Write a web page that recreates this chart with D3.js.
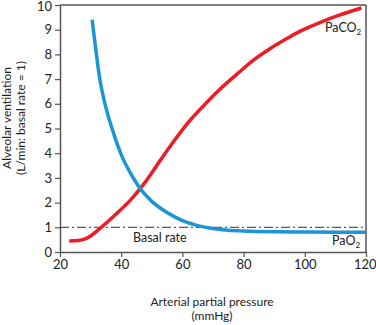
<!DOCTYPE html>
<html><head><meta charset="utf-8">
<script src="https://cdn.jsdelivr.net/npm/d3@7"></script>
<style>
body{margin:0;background:#fff;}
text{font-family:Lato,"DejaVu Sans",sans-serif;fill:#222;}
</style></head>
<body><svg id="c" width="376" height="325"></svg>
<script>
const xTicks=[20,40,60,80,100,120];
const yTicks=[0,1,2,3,4,5,6,7,8,9,10];
const pao2X=[30.5,31,32,33,34.7,37,40.5,43,46,50,55,60,65,70,75,80,90,100,110,120];
const pao2Y=[9.4,8.9,7.9,7.0,6.0,5.0,3.8,3.2,2.6,2.05,1.6,1.27,1.07,0.95,0.88,0.85,0.82,0.81,0.8,0.8];
const paco2X=[23,26,28,30,33,38,43,48,53,57,61.2,66,72,78,83,88.5,94,99,104.7,111,118.5];
const paco2Y=[0.45,0.47,0.52,0.65,0.95,1.5,2.1,2.85,3.75,4.45,5.14,5.8,6.56,7.22,7.75,8.22,8.63,8.97,9.28,9.58,9.88];
const basal=1;

const svg=d3.select("#c");
const x=d3.scaleLinear().domain([20,120]).range([60,366]);
const y=d3.scaleLinear().domain([0,10]).range([252,5]);
const axisCol="#555";

svg.append("line").attr("x1",x(20)).attr("x2",x(120)).attr("y1",y(10)).attr("y2",y(10)).attr("stroke",axisCol).attr("stroke-width",1.5);
svg.append("line").attr("x1",x(120)).attr("x2",x(120)).attr("y1",y(10)).attr("y2",y(0)).attr("stroke",axisCol).attr("stroke-width",1.5);

const gx=svg.append("g").attr("transform",`translate(0,${y(0)})`)
 .call(d3.axisBottom(x).tickValues(xTicks).tickSize(5).tickPadding(3).tickSizeOuter(0));
const gy=svg.append("g").attr("transform",`translate(${x(20)},0)`)
 .call(d3.axisLeft(y).tickValues(yTicks).tickSize(5).tickPadding(3).tickSizeOuter(0));
[gx,gy].forEach(g=>{
 g.select(".domain").attr("stroke",axisCol).attr("stroke-width",1.5);
 g.selectAll(".tick line").attr("stroke",axisCol).attr("stroke-width",1.2);
 g.selectAll(".tick text").attr("font-size",13).attr("fill","#222").style("font-family","Lato,sans-serif");
});
gy.selectAll(".tick text").filter(d=>d===10).attr("dy","0.42em");
gx.selectAll(".tick text").filter(d=>d===120).attr("dx","-0.1em");

svg.append("line").attr("x1",x(20)).attr("x2",x(120)).attr("y1",y(basal)).attr("y2",y(basal))
 .attr("stroke","#333").attr("stroke-width",1).attr("stroke-dasharray","9,3,2,3");

const line=d3.line().x(d=>x(d[0])).y(d=>y(d[1])).curve(d3.curveMonotoneX);
svg.append("path").datum(paco2X.map((v,i)=>[v,paco2Y[i]])).attr("d",line)
 .attr("fill","none").attr("stroke","#ee1c25").attr("stroke-width",3.5);
svg.append("path").datum(pao2X.map((v,i)=>[v,pao2Y[i]])).attr("d",line)
 .attr("fill","none").attr("stroke","#1b95d3").attr("stroke-width",3.5);

svg.append("text").attr("x",133).attr("y",242).attr("font-size",12.5).text("Basal rate");
const t1=svg.append("text").attr("x",325).attr("y",32).attr("font-size",12.5);
t1.append("tspan").text("PaCO");t1.append("tspan").attr("font-size",8).attr("dy",3).text("2");
const t2=svg.append("text").attr("x",332).attr("y",245).attr("font-size",12.5);
t2.append("tspan").text("PaO");t2.append("tspan").attr("font-size",8).attr("dy",3).text("2");

svg.append("text").attr("x",212).attr("y",306).attr("text-anchor","middle").attr("font-size",12).text("Arterial partial pressure");
svg.append("text").attr("x",212).attr("y",320).attr("text-anchor","middle").attr("font-size",12).text("(mmHg)");
const yl=svg.append("text").attr("transform","translate(0,118) rotate(-90)").attr("text-anchor","middle").attr("font-size",12);
yl.append("tspan").attr("x",0).attr("y",11).text("Alveolar ventilation");
yl.append("tspan").attr("x",0).attr("y",25).text("(L/min: basal rate = 1)");
</script></body></html>
